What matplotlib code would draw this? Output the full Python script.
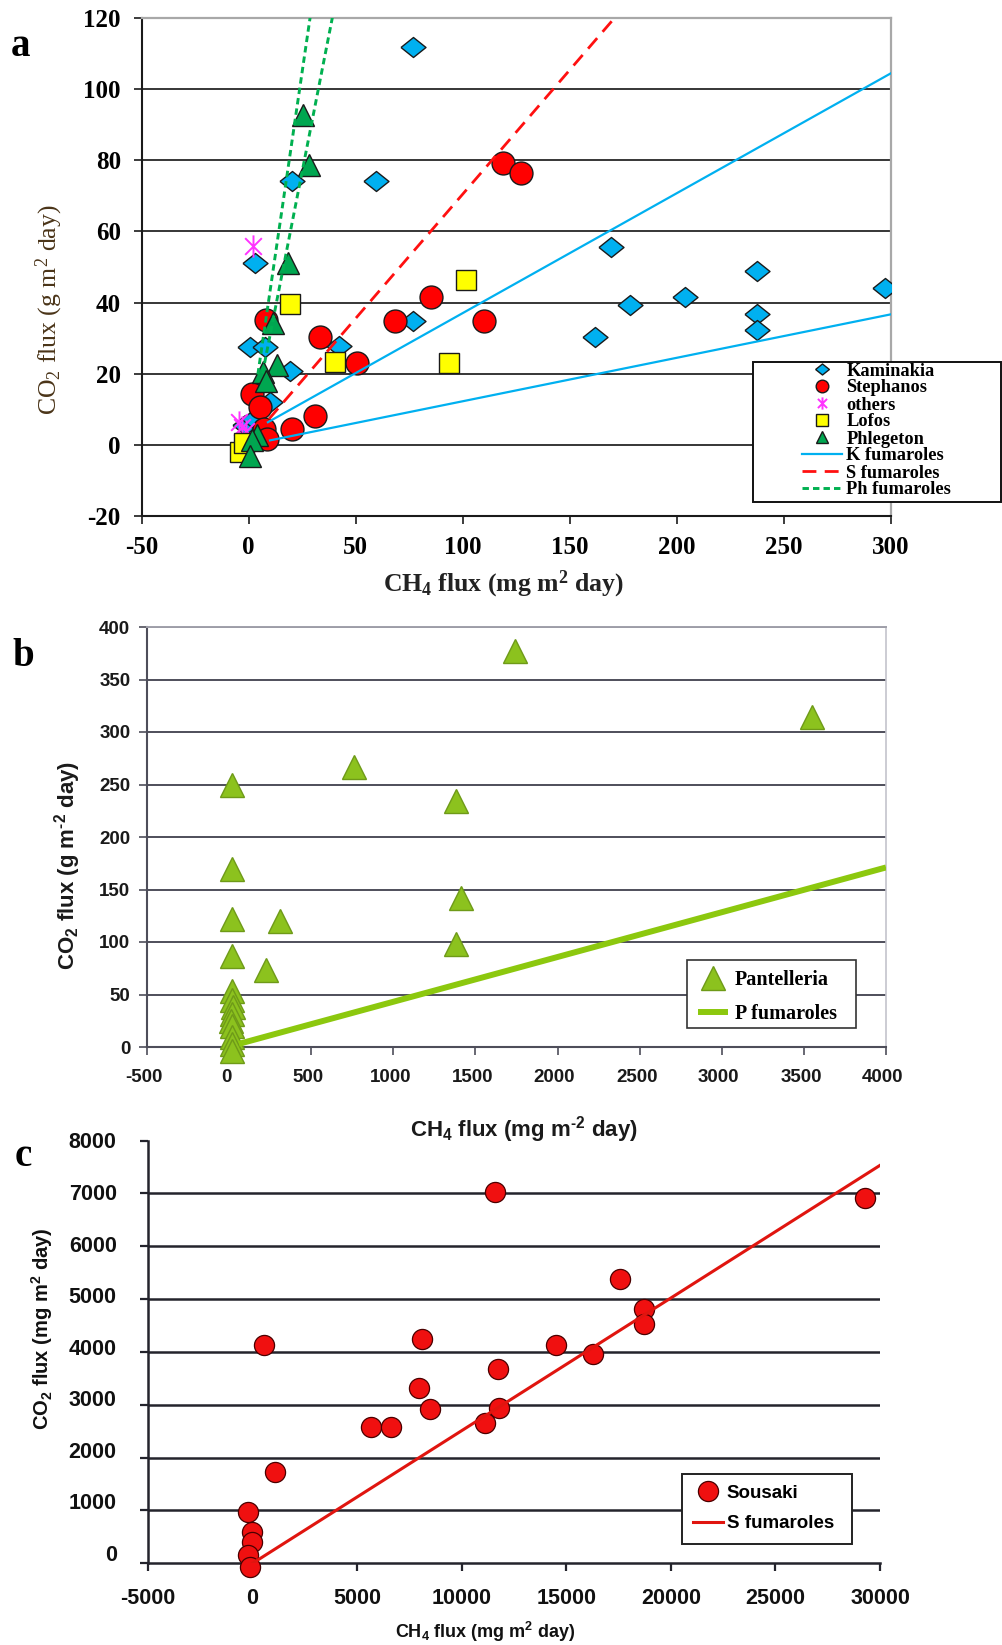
import matplotlib
matplotlib.use("Agg")
import matplotlib.pyplot as plt
import matplotlib.transforms as mtransforms
from matplotlib.patches import Rectangle
from matplotlib.path import Path

plt.rcParams["axes.unicode_minus"] = False
plt.rcParams["mathtext.default"] = "regular"

SERIF = ["Liberation Serif", "DejaVu Serif"]
SANS = ["Liberation Sans", "DejaVu Sans"]
HY = "\u2010"  # plain hyphen for the "m-2" exponents

# ---------------- panel a: Nisyros ----------------
kaminakia_ch4 = [76.8, 20.3, 59.6, 2.9, 76.8, 0.7, 7.7, 42.2, 19.4, 10.0, -1.6, 2.3,
                 169.5, 237.3, 297.3, 203.8, 178.1, 237.3, 161.7, 237.3]
kaminakia_co2 = [111.8, 74.2, 74.2, 51.0, 34.8, 27.6, 27.6, 27.7, 20.8, 12.2, 5.6, 7.2,
                 55.7, 49.0, 44.2, 41.5, 39.4, 36.9, 30.3, 32.4]
stephanos_ch4 = [8.0, 33.4, 68.2, 85.4, 110.1, 50.5, 31.1, 20.2, 1.5, 5.2, 7.0, 8.6, 118.7, 127.2]
stephanos_co2 = [35.2, 30.4, 34.8, 41.5, 34.8, 23.0, 8.2, 4.6, 14.3, 10.7, 4.5, 1.8, 79.1, 76.4]
others_ch4 = [2.2, -4.4, -3.0, -1.0]
others_co2 = [56.0, 6.6, 5.0, 3.8]
lofos_ch4 = [19.4, 101.6, 40.4, 93.8, -3.9, -2.0]
lofos_co2 = [39.5, 46.4, 23.3, 23.0, -1.9, 0.5]
phlegeton_ch4 = [25.4, 28.0, 18.6, 11.6, 13.2, 6.9, 7.9, 3.9, 1.6, 0.8]
phlegeton_co2 = [92.8, 78.6, 51.0, 34.4, 22.6, 20.6, 18.0, 2.9, 1.3, -3.0]

k_fum_high_ch4, k_fum_high_co2 = [9.0, 300.0], [6.4, 104.4]
k_fum_low_ch4, k_fum_low_co2 = [10.0, 300.0], [1.3, 36.7]
s_fum_ch4, s_fum_co2 = [9.5, 171.0], [7.3, 120.0]
ph_fum_a_ch4, ph_fum_a_co2 = [4.3, 28.7], [19.8, 120.0]
ph_fum_b_ch4, ph_fum_b_co2 = [6.5, 39.1], [20.1, 120.0]

a_xticks = [-50, 0, 50, 100, 150, 200, 250, 300]
a_yticks = [-20, 0, 20, 40, 60, 80, 100, 120]

# ---------------- panel b: Pantelleria ----------------
pant_ch4 = [20, 761, 1382, 20, 20, 20, 310, 222, 1412, 1382, 1743, 3550,
            20, 15, 25, 20, 10, 20, 15, 20, 20]
pant_co2 = [250, 267, 234, 170, 122, 87, 120, 73, 142, 98, 377, 314,
            53, 45, 38, 31, 25, 20, 10, 3, -4]
p_fum_ch4, p_fum_co2 = [60, 4000], [3, 171]

b_xticks = [-500, 0, 500, 1000, 1500, 2000, 2500, 3000, 3500, 4000]
b_yticks = [0, 50, 100, 150, 200, 250, 300, 350, 400]

# ---------------- panel c: Sousaki ----------------
sousaki_ch4 = [11600, 29300, 17550, 18700, 18700, 14500, 16300, 11750, 11800, 11100,
               8110, 7940, 8470, 5680, 6610, 530, 1050, -240, -30, -30, -240, -130]
sousaki_co2 = [7025, 6915, 5380, 4810, 4525, 4125, 3955, 3670, 2945, 2657,
               4238, 3321, 2929, 2574, 2574, 4130, 1720, 980, 601, 398, 158, -63]
s_fum_c_ch4, s_fum_c_co2 = [0, 30000], [0, 7530]

c_xticks = [-5000, 0, 5000, 10000, 15000, 20000, 25000, 30000]
c_yticks = [0, 1000, 2000, 3000, 4000, 5000, 6000, 7000, 8000]

W, H = 1003, 1645
fig = plt.figure(figsize=(W / 100, H / 100), dpi=100)
fig.patch.set_facecolor("white")


def fx(px):
    return px / W


def fy(py):
    return 1 - py / H


def axes_px(left, top, right, bottom):
    return fig.add_axes([fx(left), fy(bottom), (right - left) / W, (bottom - top) / H])


diamond = [(-1, 0), (0, 0.8), (1, 0), (0, -0.8), (-1, 0)]
asterisk = Path([(0, -1), (0, 1), (-0.75, -0.75), (0.75, 0.75), (-0.75, 0.75), (0.75, -0.75)],
                [Path.MOVETO, Path.LINETO] * 3)

# ======================= panel a =======================
ax1 = axes_px(141.6, 17.8, 890.8, 516.2)
ax1.set_xlim(-50, 300)
ax1.set_ylim(-20, 120)
ax1.set_xticks(a_xticks)
ax1.set_yticks(a_yticks)
ax1.set_axisbelow(True)
ax1.grid(axis="y", color="#262626", lw=1.3)
for s in ("top", "right"):
    ax1.spines[s].set_color("#a8a8a8")
    ax1.spines[s].set_linewidth(1.6)
for s in ("left", "bottom"):
    ax1.spines[s].set_color("#1a1a1a")
    ax1.spines[s].set_linewidth(1.5)
ax1.tick_params(direction="out", length=6, width=1.2, color="#1a1a1a")
ax1.tick_params(axis="x", pad=8.5)
ax1.tick_params(axis="y", pad=9)
for lab in ax1.get_xticklabels() + ax1.get_yticklabels():
    lab.set_fontfamily(SERIF)
    lab.set_fontweight("bold")
    lab.set_fontsize(18)

h_kam, = ax1.plot(kaminakia_ch4, kaminakia_co2, ls="none", marker=diamond, ms=18,
                  mfc="#00B0F0", mec="#1a1a1a", mew=1.0, label="Kaminakia", zorder=3)
h_ste, = ax1.plot(stephanos_ch4, stephanos_co2, ls="none", marker="o", ms=16.5,
                  mfc="#FF0000", mec="#1a1a1a", mew=1.0, label="Stephanos", zorder=3.1)
h_oth, = ax1.plot(others_ch4, others_co2, ls="none", marker=asterisk, ms=16,
                  mfc="none", mec="#FF33FF", mew=1.4, label="others", zorder=3.2)
h_lof, = ax1.plot(lofos_ch4, lofos_co2, ls="none", marker="s", ms=15,
                  mfc="#FFFF00", mec="#1a1a1a", mew=1.0, label="Lofos", zorder=3.3)
h_phl, = ax1.plot(phlegeton_ch4, phlegeton_co2, ls="none", marker="^", ms=16,
                  mfc="#00A650", mec="#1a1a1a", mew=1.0, label="Phlegeton", zorder=3.4)

h_kf, = ax1.plot(k_fum_high_ch4, k_fum_high_co2, color="#00B0F0", lw=1.6,
                 label="K fumaroles", zorder=4)
ax1.plot(k_fum_low_ch4, k_fum_low_co2, color="#00B0F0", lw=1.6, zorder=4)
h_sf, = ax1.plot(s_fum_ch4, s_fum_co2, color="#FF1010", lw=2.0, dashes=(5, 3),
                 label="S fumaroles", zorder=4)
h_pf, = ax1.plot(ph_fum_a_ch4, ph_fum_a_co2, color="#00B050", lw=2.1, dashes=(2.2, 1.4),
                 label="Ph fumaroles", zorder=4)
ax1.plot(ph_fum_b_ch4, ph_fum_b_co2, color="#00B050", lw=2.1, dashes=(2.2, 1.4), zorder=4)

fig.patches.append(Rectangle((fx(753.4), fy(502.3)), (1000.8 - 753.4) / W, (502.3 - 362) / H,
                             transform=fig.transFigure, facecolor="white",
                             edgecolor="#111111", lw=1.4, zorder=2))
fig.legend(handles=[h_kam, h_ste, h_oth, h_lof, h_phl, h_kf, h_sf, h_pf],
           loc="upper left", bbox_to_anchor=(fx(802), fy(362.5)), frameon=False,
           borderpad=0, borderaxespad=0, handlelength=2.2, handletextpad=0.22,
           labelspacing=0.0, markerscale=0.55,
           prop={"family": SERIF, "weight": "bold", "size": 13.2})

fig.text(fx(21), fy(47), "a", family=SERIF, weight="bold", size=28, ha="center", va="center")
fig.text(fx(49.3), fy(309.5), "CO$_2$ flux (g m$^2$ day)", family=SERIF, size=18.5,
         color="#4a3418", rotation=90, ha="center", va="center")
fig.text(fx(503.6), fy(584), "CH$_4$ flux (mg m$^2$ day)", family=SERIF, weight="bold",
         size=18.5, color="#222222", ha="center", va="center")

# ======================= panel b =======================
ax2 = axes_px(147, 627, 886, 1047)
ax2.set_xlim(-500, 4000)
ax2.set_ylim(0, 400)
ax2.set_xticks(b_xticks)
ax2.set_yticks(b_yticks)
ax2.set_axisbelow(True)
ax2.grid(axis="y", color="#4e4e5a", lw=1.4)
ax2.spines["top"].set_color("#a0a0aa")
ax2.spines["top"].set_linewidth(1.4)
ax2.spines["right"].set_color("#c4c4cc")
ax2.spines["right"].set_linewidth(1.2)
for s in ("left", "bottom"):
    ax2.spines[s].set_color("#4e4e5a")
    ax2.spines[s].set_linewidth(1.5)
ax2.tick_params(direction="out", length=5.5, width=1.2, color="#4e4e5a")
ax2.tick_params(axis="x", pad=10.5)
ax2.tick_params(axis="y", pad=6.5)
for lab in ax2.get_xticklabels() + ax2.get_yticklabels():
    lab.set_fontfamily(SANS)
    lab.set_fontweight("bold")
    lab.set_fontsize(13.5)
    lab.set_color("#1a1a1a")

h_pan, = ax2.plot(pant_ch4, pant_co2, ls="none", marker="^", ms=17, mfc="#8CC21E",
                  mec="#6E9A18", mew=1.0, label="Pantelleria", zorder=3, clip_on=False)
h_pfum, = ax2.plot(p_fum_ch4, p_fum_co2, color="#8CC80E", lw=4.3, solid_capstyle="butt",
                   label="P fumaroles", zorder=4)

fig.patches.append(Rectangle((fx(687.3), fy(1028.3)), (856 - 687.3) / W, (1028.3 - 960) / H,
                             transform=fig.transFigure, facecolor="white",
                             edgecolor="#333333", lw=1.2, zorder=2))
fig.legend(handles=[h_pan, h_pfum], loc="upper left", bbox_to_anchor=(fx(698.3), fy(970.2)),
           frameon=False, borderpad=0, borderaxespad=0, handlelength=1.49,
           handletextpad=0.33, labelspacing=0.71,
           prop={"family": SERIF, "weight": "bold", "size": 14.5})

fig.text(fx(23), fy(657), "b", family=SERIF, weight="bold", size=28, ha="center", va="center")
fig.text(fx(68), fy(865.6), "CO$_2$ flux (g m$^{" + HY + "2}$ day)", family=SANS,
         weight="bold", size=16, color="#1a1a1a", rotation=90, ha="center", va="center")
fig.text(fx(523.5), fy(1130), "CH$_4$ flux (mg m$^{" + HY + "2}$ day)", family=SANS,
         weight="bold", size=16, color="#1a1a1a", ha="center", va="center")

# ======================= panel c =======================
ax3 = axes_px(148, 1140.5, 880, 1563.3)
ax3.set_xlim(-5000, 30000)
ax3.set_ylim(0, 8000)
ax3.set_xticks(c_xticks)
ax3.set_yticks(c_yticks)
for v in c_yticks[1:-1]:
    ax3.axhline(v, color="#24242c", lw=1.8, zorder=1)
ax3.spines["top"].set_visible(False)
ax3.spines["right"].set_visible(False)
for s in ("left", "bottom"):
    ax3.spines[s].set_color("#24242c")
    ax3.spines[s].set_linewidth(1.8)
ax3.tick_params(direction="out", length=6, width=1.6, color="#24242c")
ax3.tick_params(axis="x", pad=12)
ax3.tick_params(axis="y", pad=16.5)
for lab in ax3.get_xticklabels() + ax3.get_yticklabels():
    lab.set_fontfamily(SANS)
    lab.set_fontweight("bold")
    lab.set_fontsize(15.5)
    lab.set_color("#111111")

h_sou, = ax3.plot(sousaki_ch4, sousaki_co2, ls="none", marker="o", ms=14.5, mfc="#F01010",
                  mec="#4a0000", mew=0.9, label="Sousaki", zorder=3, clip_on=False)
h_sfc, = ax3.plot(s_fum_c_ch4, s_fum_c_co2, color="#E0150F", lw=2.2, label="S fumaroles",
                  zorder=4)

fig.patches.append(Rectangle((fx(682.3), fy(1544)), (852.3 - 682.3) / W, (1544 - 1474) / H,
                             transform=fig.transFigure, facecolor="white",
                             edgecolor="#222222", lw=1.4, zorder=2))
fig.legend(handles=[h_sou, h_sfc], loc="upper left", bbox_to_anchor=(fx(693.3), fy(1484.6)),
           frameon=False, borderpad=0, borderaxespad=0, handlelength=1.6,
           handletextpad=0.18, labelspacing=0.72,
           prop={"family": SANS, "weight": "bold", "size": 13.5})

fig.text(fx(23.5), fy(1157), "c", family=SERIF, weight="bold", size=28, ha="center", va="center")
fig.text(fx(42), fy(1328.6), "CO$_2$ flux (mg m$^2$ day)", family=SANS, weight="bold",
         size=14.5, color="#111111", rotation=90, ha="center", va="center")
fig.text(fx(485), fy(1631.5), "CH$_4$ flux (mg m$^2$ day)", family=SANS, weight="bold",
         size=13, color="#111111", ha="center", va="center")

# small label shifts: panel b x labels sit slightly left of their ticks,
# panel c y labels drift upward toward the bottom of the scale
fig.canvas.draw()
for lab in ax2.get_xticklabels():
    lab.set_transform(lab.get_transform() +
                      mtransforms.ScaledTranslation(-3 / 100, 0, fig.dpi_scale_trans))
for lab, v in zip(ax3.get_yticklabels(), c_yticks):
    dy = (8000 - v) / 1000 * 1.3
    lab.set_transform(lab.get_transform() +
                      mtransforms.ScaledTranslation(0, dy / 100, fig.dpi_scale_trans))

fig.savefig("out.png", dpi=100, facecolor="white")
